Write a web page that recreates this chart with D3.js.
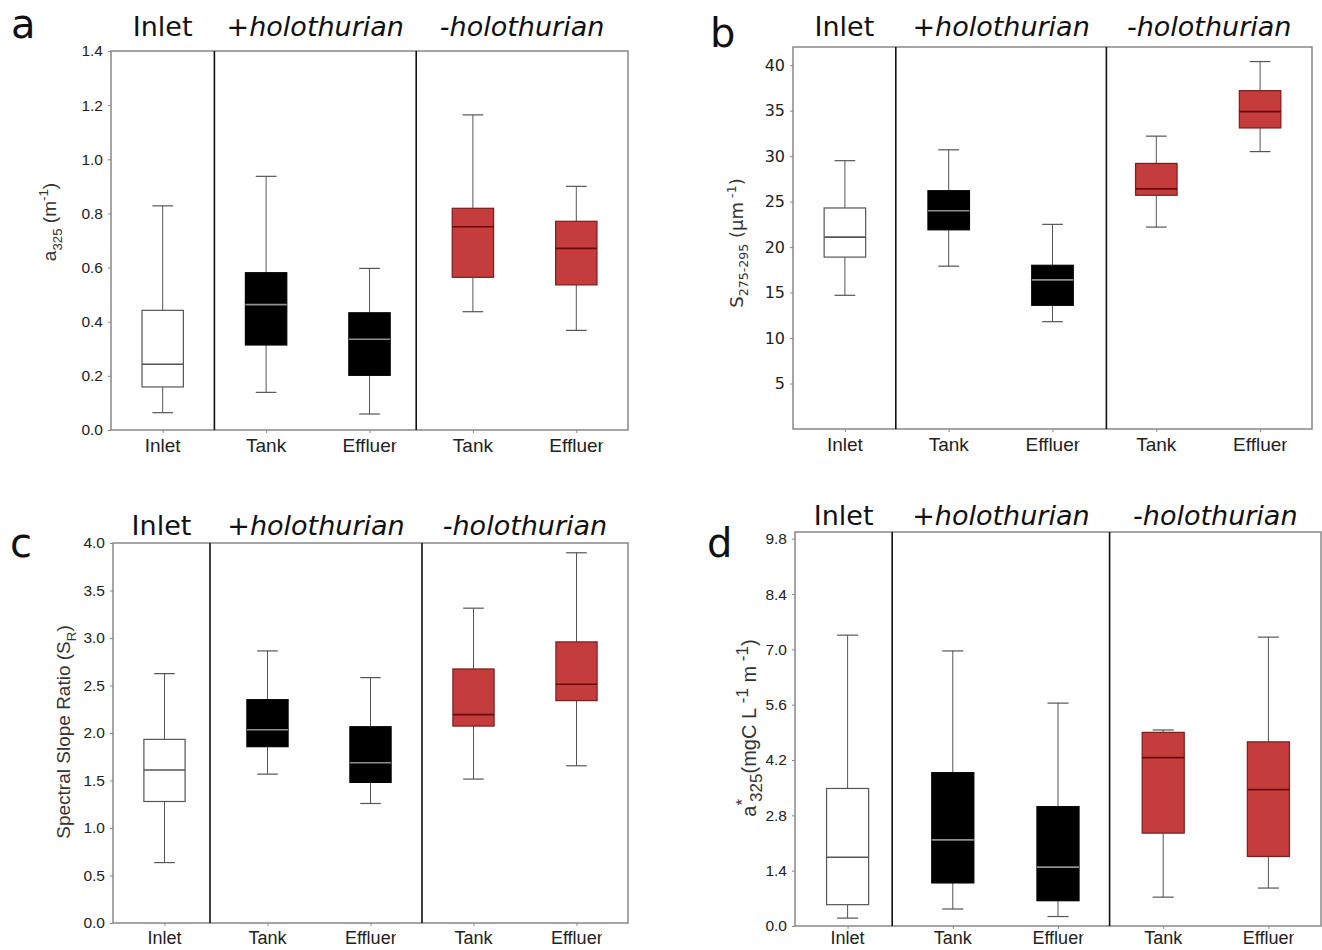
<!DOCTYPE html>
<html><head><meta charset="utf-8">
<script src="https://cdn.jsdelivr.net/npm/d3@7"></script>
<style>body{margin:0;background:#fff}svg{display:block}</style>
</head><body>
<script>
// ---------- data ----------
const categories = ["Inlet", "Tank", "Effluent", "Tank", "Effluent"];
const groups = ["Inlet", "+holothurian", "-holothurian"];
const groupOfCategory = [0, 1, 1, 2, 2];
// each entry: [min, q1, median, q3, max]
const a325 = [
  [0.064, 0.159, 0.243, 0.442, 0.828],
  [0.139, 0.314, 0.463, 0.581, 0.937],
  [0.059, 0.202, 0.335, 0.433, 0.597],
  [0.437, 0.564, 0.751, 0.819, 1.164],
  [0.368, 0.536, 0.671, 0.771, 0.900]
];
const s275 = [
  [14.7, 18.9, 21.1, 24.3, 29.5],
  [17.9, 21.9, 24.0, 26.2, 30.7],
  [11.8, 13.6, 16.4, 18.0, 22.5],
  [22.2, 25.7, 26.4, 29.2, 32.2],
  [30.5, 33.1, 34.9, 37.2, 40.4]
];
const slopeRatio = [
  [0.636, 1.279, 1.610, 1.933, 2.625],
  [1.567, 1.856, 2.035, 2.351, 2.864],
  [1.258, 1.480, 1.687, 2.066, 2.583],
  [1.515, 2.073, 2.193, 2.674, 3.314],
  [1.655, 2.341, 2.513, 2.959, 3.897]
];
const aStar325 = [
  [0.20, 0.54, 1.74, 3.48, 7.36],
  [0.43, 1.09, 2.18, 3.88, 6.96],
  [0.24, 0.64, 1.49, 3.02, 5.64],
  [0.73, 2.35, 4.26, 4.90, 4.96],
  [0.96, 1.76, 3.45, 4.66, 7.31]
];
const ticksA = [0.0, 0.2, 0.4, 0.6, 0.8, 1.0, 1.2, 1.4];
const ticksB = [5, 10, 15, 20, 25, 30, 35, 40];
const ticksC = [0.0, 0.5, 1.0, 1.5, 2.0, 2.5, 3.0, 3.5, 4.0];
const ticksD = [0.0, 1.4, 2.8, 4.2, 5.6, 7.0, 8.4, 9.8];

// ---------- styles ----------
const boxStyle = [
  {fill: "#ffffff", stroke: "#555", median: "#555"},
  {fill: "#000000", stroke: "#000", median: "#8f8f8f"},
  {fill: "#c43c3c", stroke: "#7d1c1c", median: "#6a0a0a"}
];
const HEAD_FONT = "DejaVu Sans, sans-serif";
const ARIAL = "Liberation Sans, Arial, sans-serif";

const svg = d3.select("body").append("svg").attr("width", 1322).attr("height", 950);

const panels = [
  {letter: "a", lx: 11, ly: 38, data: a325, ticks: ticksA, fmt: d3.format(".1f"), domain: [0, 1.4],
   left: 111, right: 628, top: 51, bottom: 430, headY: 36, tickFont: ARIAL, tickSize: 15.5,
   divShift: [0, -5], labelDy: 22, labelSize: 19,
   title: {x: 56, y: 222, font: ARIAL, size: 19, parts: [["a",""],["325","sub"],[" (m",""],["-1","sup"],[")",""]]}},
  {letter: "b", lx: 710, ly: 47, data: s275, ticks: ticksB, fmt: d3.format("d"), domain: [0, 42],
   left: 793, right: 1312, top: 47, bottom: 429, headY: 36, tickFont: HEAD_FONT, tickSize: 16,
   divShift: [-1, 2], labelDy: 22, labelSize: 19,
   title: {x: 743, y: 243, font: HEAD_FONT, size: 18, parts: [["S",""],["275-295","sub"],[" (\u00b5m",""],[" -1","sup"],[")",""]]}},
  {letter: "c", lx: 10, ly: 557, data: slopeRatio, ticks: ticksC, fmt: d3.format(".1f"), domain: [0, 4],
   left: 113, right: 628, top: 543, bottom: 923, headY: 535, tickFont: ARIAL, tickSize: 15.5,
   divShift: [-6, 0], labelDy: 21, labelSize: 18,
   title: {x: 70, y: 732, font: ARIAL, size: 19, parts: [["Spectral Slope Ratio (S",""],["R","sub"],[")",""]]}},
  {letter: "d", lx: 707, ly: 557, data: aStar325, ticks: ticksD, fmt: d3.format(".1f"), domain: [0, 9.97],
   left: 795, right: 1321, top: 532, bottom: 926, headY: 525, tickFont: ARIAL, tickSize: 15.5,
   divShift: [-8, -1], labelDy: 18, labelSize: 18,
   title: {x: 756, y: 728, font: ARIAL, size: 20, subScale: 0.85, parts: [["a",""],["*","sup"],["325","sub2"],["(mgC L",""],[" -1","sup"],[" m",""],[" -1","sup"],[")",""]]}}
];

let clipId = 0;
panels.forEach(p => {
  const g = svg.append("g");
  const idx = categories.map((c, i) => i);
  const x = d3.scalePoint().domain(idx).range([p.left, p.right]).padding(0.5);
  const y = d3.scaleLinear().domain(p.domain).range([p.bottom, p.top]);
  const step = x.step();
  const bw = step * 0.4;

  // panel letter
  svg.append("text").attr("x", p.lx).attr("y", p.ly).text(p.letter)
    .attr("font-family", HEAD_FONT).attr("font-size", 40).attr("fill", "#111");

  // group dividers positions
  const divs = [[0, 1], [2, 3]].map(([a, b], k) => (x(a) + x(b)) / 2 + p.divShift[k]);
  const bounds = [p.left, divs[0], divs[1], p.right];

  // group headers
  groups.forEach((gname, gi) => {
    const cx = (bounds[gi] + bounds[gi + 1]) / 2;
    const t = g.append("text").attr("x", cx).attr("y", p.headY)
      .attr("text-anchor", "middle").attr("font-family", HEAD_FONT)
      .attr("font-size", 27).attr("fill", "#111");
    if (gname.startsWith("+")) {
      t.append("tspan").text("+");
      t.append("tspan").attr("font-style", "italic").text(gname.slice(1));
    } else if (gname.startsWith("-")) {
      t.append("tspan").attr("font-style", "italic").text(gname);
    } else t.text(gname);
  });

  // y axis
  const ya = g.append("g").attr("transform", `translate(${p.left},0)`)
    .call(d3.axisLeft(y).tickValues(p.ticks).tickFormat(p.fmt).tickSize(3).tickPadding(5));
  ya.select(".domain").remove();
  ya.selectAll(".tick line").attr("stroke", "#888");
  ya.selectAll(".tick text").attr("font-family", p.tickFont).attr("font-size", p.tickSize).attr("fill", "#222");

  // x axis
  const xa = g.append("g").attr("transform", `translate(0,${p.bottom})`)
    .call(d3.axisBottom(x).tickSize(3).tickFormat(""));
  xa.select(".domain").remove();
  xa.selectAll(".tick line").attr("stroke", "#888");
  idx.forEach(i => {
    const label = categories[i];
    const cx = x(i);
    const t = g.append("text").attr("y", p.bottom + p.labelDy)
      .attr("font-family", ARIAL).attr("font-size", p.labelSize).attr("fill", "#222")
      .text(label);
    if (label === "Effluent") {
      // the reference shows this label cut short ("Effluer")
      const vis = 2.84 * p.labelSize;
      const id = "clip" + (clipId++);
      svg.append("clipPath").attr("id", id).append("rect")
        .attr("x", cx - vis / 2 - 5).attr("y", p.bottom + 2).attr("width", vis + 5).attr("height", 30);
      t.attr("x", cx - vis / 2).attr("text-anchor", "start").attr("clip-path", `url(#${id})`);
    } else {
      t.attr("x", cx).attr("text-anchor", "middle");
    }
  });

  // frame
  g.append("rect").attr("x", p.left).attr("y", p.top)
    .attr("width", p.right - p.left).attr("height", p.bottom - p.top)
    .attr("fill", "none").attr("stroke", "#888").attr("stroke-width", 1.5);

  // group dividers
  divs.forEach(xv => {
    g.append("line").attr("x1", xv).attr("x2", xv).attr("y1", p.top).attr("y2", p.bottom)
      .attr("stroke", "#111").attr("stroke-width", 1.6);
  });

  // boxes
  p.data.forEach((d, i) => {
    const st = boxStyle[groupOfCategory[i]];
    const cx = x(i);
    const [mn, q1, md, q3, mx] = d;
    const bg = g.append("g");
    bg.append("line").attr("x1", cx).attr("x2", cx).attr("y1", y(mx)).attr("y2", y(q3)).attr("stroke", "#555");
    bg.append("line").attr("x1", cx).attr("x2", cx).attr("y1", y(q1)).attr("y2", y(mn)).attr("stroke", "#555");
    [mn, mx].forEach(v => bg.append("line").attr("x1", cx - bw / 4).attr("x2", cx + bw / 4)
      .attr("y1", y(v)).attr("y2", y(v)).attr("stroke", "#555").attr("stroke-width", 1.2));
    bg.append("rect").attr("x", cx - bw / 2).attr("width", bw)
      .attr("y", y(q3)).attr("height", y(q1) - y(q3))
      .attr("fill", st.fill).attr("stroke", st.stroke).attr("stroke-width", 1.2);
    bg.append("line").attr("x1", cx - bw / 2).attr("x2", cx + bw / 2)
      .attr("y1", y(md)).attr("y2", y(md)).attr("stroke", st.median).attr("stroke-width", 1.6);
  });

  // y title
  const ft = p.title;
  const size = ft.size || 18;
  const sc = ft.subScale || 0.7;
  const tt = svg.append("text").attr("transform", `translate(${ft.x},${ft.y}) rotate(-90)`)
    .attr("text-anchor", "middle").attr("font-family", ft.font).attr("font-size", size).attr("fill", "#333");
  const shiftOf = kd => kd === "sub" || kd === "sub2" ? 0.3 * size : kd === "sup" ? -0.4 * size : 0;
  ft.parts.forEach(([s, kind], k) => {
    const ts = tt.append("tspan").text(s);
    const prev = k > 0 ? ft.parts[k - 1][1] : "";
    const dy = shiftOf(kind) - shiftOf(prev);
    if (dy) ts.attr("dy", dy);
    if (kind) ts.attr("font-size", size * sc);
    if (kind === "sub2") ts.attr("dx", -size * 0.15);
  });
});
</script>
</body></html>
